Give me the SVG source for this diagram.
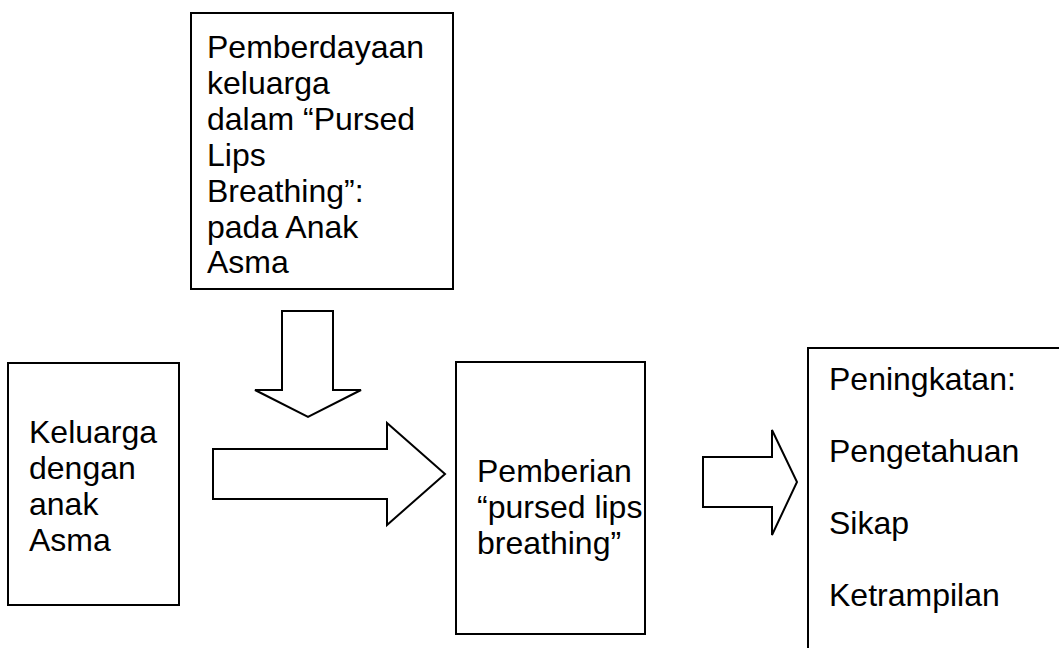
<svg xmlns="http://www.w3.org/2000/svg" width="1059" height="648" viewBox="0 0 1059 648">
<style>
.box{fill:#fff;stroke:#000;stroke-width:2}
.arr{fill:#fff;stroke:#000;stroke-width:2;stroke-linejoin:miter}
text{font-family:"Liberation Sans",Arial,sans-serif;font-size:32px;fill:#000}
</style>
<rect width="1059" height="648" fill="#fff"/>
<g id="top-box">
<rect class="box" x="191" y="13" width="262" height="276"/>
<text x="207" y="58">Pemberdayaan</text>
<text x="207" y="94">keluarga</text>
<text x="207" y="130">dalam “Pursed</text>
<text x="207" y="166">Lips</text>
<text x="207" y="202">Breathing”:</text>
<text x="207" y="238">pada Anak</text>
<text x="207" y="273">Asma</text>
</g>
<g id="left-box">
<rect class="box" x="8" y="363" width="171" height="242"/>
<text x="29" y="443">Keluarga</text>
<text x="29" y="479">dengan</text>
<text x="29" y="515">anak</text>
<text x="29" y="551">Asma</text>
</g>
<g id="middle-box">
<rect class="box" x="456" y="362" width="189" height="272"/>
<text x="477" y="482">Pemberian</text>
<text x="477" y="518">“pursed lips</text>
<text x="477" y="554">breathing”</text>
</g>
<g id="right-box">
<rect class="box" x="808" y="348" width="260" height="320"/>
<text x="829" y="390">Peningkatan:</text>
<text x="829" y="462">Pengetahuan</text>
<text x="829" y="534">Sikap</text>
<text x="829" y="606">Ketrampilan</text>
</g>
<g id="connectors">
<polygon class="arr" points="282,311 333,311 333,390 361,390 308,417 255,390 282,390"/>
<polygon class="arr" points="213,449 387,449 387,423 445,474 387,525 387,499 213,499"/>
<polygon class="arr" points="703,457 772,457 772,430 797,482 772,535 772,507 703,507"/>
</g>
</svg>
